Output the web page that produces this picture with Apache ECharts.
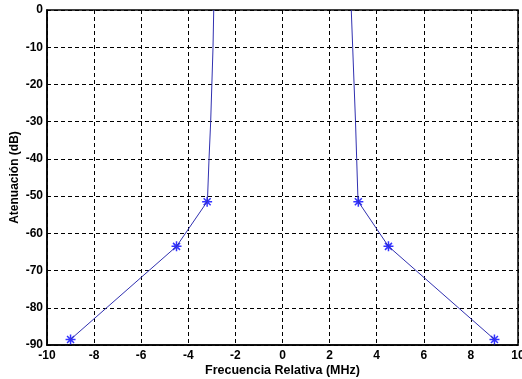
<!DOCTYPE html>
<html>
<head>
<meta charset="utf-8">
<script src="https://cdn.jsdelivr.net/npm/echarts@6/dist/echarts.min.js"></script>
<style>
  html, body { margin: 0; padding: 0; background: #fff; }
  #main { width: 522px; height: 379px; }
</style>
</head>
<body>
<div id="main"></div>
<script>
// curva izquierda / derecha (MHz, dB)
const leftCurve = [[-2.92, 0], [-2.95, -10], [-3.0, -20], [-3.05, -30], [-3.12, -40], [-3.18, -50], [-3.2, -51.5], [-4.5, -63.5], [-9, -88.5]];
const rightCurve = [[2.92, 0], [2.98, -10], [3.04, -20], [3.1, -30], [3.15, -40], [3.2, -50], [3.22, -51.5], [4.5, -63.5], [9, -88.5]];
// puntos marcados con *
const starPoints = [[-3.2, -51.5], [-4.5, -63.5], [-9, -88.5], [3.22, -51.5], [4.5, -63.5], [9, -88.5]];

const xTicks = { min: -10, max: 10, interval: 2 };
const yTicks = { min: -90, max: 0, interval: 10 };

// asterisco estilo matlab
const asterisk = 'path://M5,0L5,10M0,5L10,5M1.5,1.5L8.5,8.5M8.5,1.5L1.5,8.5';

const labelFont = {
  color: '#000',
  fontFamily: 'Liberation Sans, Arial, sans-serif',
  fontWeight: 'bold',
  fontSize: 12,
};

const gridLine = {
  show: true,
  lineStyle: { color: '#000', type: [4, 3], width: 1 },
};

const chart = echarts.init(document.getElementById('main'));
const option = {
  backgroundColor: '#fff',
  animation: false,
  grid: {
    left: 47,
    right: 4,
    top: 10,
    bottom: 34,
    containLabel: false,
    outerBoundsMode: 'none',
    show: true,
    borderColor: '#000',
    borderWidth: 1.5,
  },
  xAxis: {
    type: 'value',
    min: xTicks.min,
    max: xTicks.max,
    interval: xTicks.interval,
    name: 'Frecuencia Relativa (MHz)',
    nameLocation: 'middle',
    nameGap: 19,
    nameMoveOverlap: false,
    nameTextStyle: Object.assign({}, labelFont, { fontSize: 12.5 }),
    axisLine: { show: true, onZero: false, lineStyle: { color: '#000', width: 1.5 } },
    axisTick: { show: false },
    axisLabel: Object.assign({ margin: 5 }, labelFont),
    splitLine: gridLine,
  },
  yAxis: {
    type: 'value',
    min: yTicks.min,
    max: yTicks.max,
    interval: yTicks.interval,
    name: 'Atenuación (dB)',
    nameLocation: 'middle',
    nameGap: 26,
    nameMoveOverlap: false,
    nameTextStyle: labelFont,
    axisLine: { show: true, onZero: false, lineStyle: { color: '#000', width: 1.5 } },
    axisTick: { show: false },
    axisLabel: Object.assign({ margin: 4 }, labelFont),
    splitLine: gridLine,
  },
  series: [
    {
      type: 'line',
      data: leftCurve,
      showSymbol: false,
      lineStyle: { color: '#3030b0', width: 1 },
    },
    {
      type: 'line',
      data: rightCurve,
      showSymbol: false,
      lineStyle: { color: '#3030b0', width: 1 },
    },
    {
      type: 'scatter',
      data: starPoints,
      symbol: asterisk,
      symbolSize: 10,
      itemStyle: { color: 'none', borderColor: '#0000ff', borderWidth: 1.5 },
    },
  ],
};
chart.setOption(option);
</script>
</body>
</html>
